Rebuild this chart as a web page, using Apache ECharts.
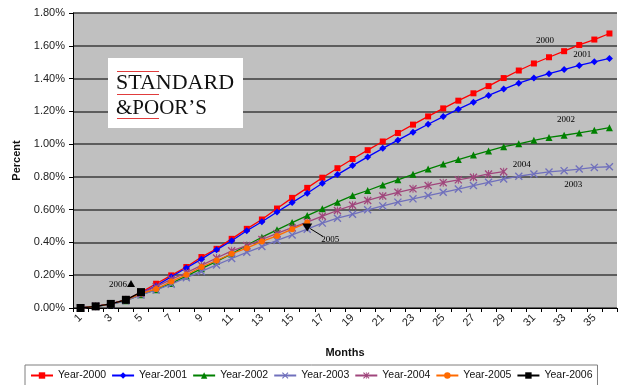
<!DOCTYPE html>
<html>
<head>
<meta charset="utf-8">
<script src="https://cdn.jsdelivr.net/npm/echarts@6/dist/echarts.min.js"></script>
<style>
  html, body { margin: 0; padding: 0; background: #ffffff; }
  #chart { width: 618px; height: 385px; }
</style>
</head>
<body>
<div id="chart"></div>
<script>
// Months since origination (category axis)
const months = ['1','2','3','4','5','6','7','8','9','10','11','12','13','14','15','16','17','18',
                '19','20','21','22','23','24','25','26','27','28','29','30','31','32','33','34','35','36'];

// Y-axis ticks (percent)
const yTicks = { min: 0, max: 1.8, step: 0.2 };

// Cumulative default rate by cohort year, in percent
const year2000 = [0.00,0.010,0.025,0.050,0.095,0.148,0.199,0.250,0.311,0.361,0.422,0.483,0.540,0.607,0.672,0.733,0.795,0.853,
                  0.909,0.963,1.016,1.068,1.119,1.169,1.218,1.265,1.310,1.354,1.403,1.449,1.492,1.530,1.567,1.605,1.638,1.675];
const year2001 = [0.00,0.010,0.025,0.050,0.090,0.135,0.191,0.244,0.298,0.355,0.410,0.471,0.526,0.586,0.643,0.700,0.761,0.814,
                  0.869,0.922,0.974,1.024,1.073,1.121,1.168,1.213,1.256,1.297,1.336,1.372,1.403,1.430,1.455,1.480,1.502,1.523];
const year2002 = [0.00,0.010,0.022,0.045,0.081,0.112,0.150,0.195,0.240,0.285,0.330,0.383,0.432,0.477,0.521,0.564,0.605,0.646,
                  0.686,0.717,0.751,0.782,0.816,0.848,0.878,0.906,0.933,0.958,0.984,1.002,1.023,1.041,1.054,1.068,1.084,1.100];
const year2003 = [0.00,0.010,0.020,0.045,0.080,0.110,0.145,0.185,0.223,0.263,0.302,0.340,0.375,0.412,0.446,0.481,0.518,0.548,
                  0.572,0.599,0.623,0.646,0.666,0.686,0.706,0.726,0.747,0.767,0.787,0.804,0.818,0.830,0.838,0.848,0.858,0.862];
const year2004 = [0.00,0.010,0.025,0.050,0.090,0.130,0.175,0.215,0.260,0.305,0.349,0.381,0.418,0.455,0.490,0.524,0.560,0.595,
                  0.627,0.656,0.683,0.706,0.727,0.747,0.765,0.782,0.798,0.818,0.832];
const year2005 = [0.00,0.010,0.025,0.050,0.088,0.116,0.162,0.203,0.250,0.290,0.331,0.365,0.406,0.440,0.481,0.521];
const year2006 = [0.00,0.010,0.025,0.050,0.097];

const seriesNames = ['Year-2000','Year-2001','Year-2002','Year-2003','Year-2004','Year-2005','Year-2006'];

// Marker shapes
const crossPath = 'path://M0,1.2L1.2,0L10,8.8L8.8,10Z M8.8,0L10,1.2L1.2,10L0,8.8Z';
const starPath  = 'path://M0,1.2L1.2,0L10,8.8L8.8,10Z M8.8,0L10,1.2L1.2,10L0,8.8Z M4.4,0L5.6,0L5.6,10L4.4,10Z';

const styles = [
  { color: '#ff0000', symbol: 'rect',     size: 6 },
  { color: '#0000ff', symbol: 'diamond',  size: 7 },
  { color: '#008000', symbol: 'triangle', size: 7 },
  { color: '#7070bc', symbol: crossPath,  size: 8 },
  { color: '#a0467c', symbol: starPath,   size: 8 },
  { color: '#ff6a00', symbol: 'circle',   size: 6 },
  { color: '#000000', symbol: 'rect',     size: 8 }
];
const dataSets = [year2000, year2001, year2002, year2003, year2004, year2005, year2006];

const FONT = 'Liberation Sans, Arial, sans-serif';
const SERIF = 'Liberation Serif, Times New Roman, serif';

const series = dataSets.map((d, i) => ({
  name: seriesNames[i],
  type: 'line',
  data: d,
  symbol: styles[i].symbol,
  symbolSize: styles[i].size,
  showAllSymbol: true,
  animation: false,
  lineStyle: { color: styles[i].color, width: 1.3 },
  itemStyle: { color: styles[i].color },
  z: 2 + i
}));

const option = {
  animation: false,
  backgroundColor: '#ffffff',
  grid: {
    left: 73, right: 1, top: 13, bottom: 77,
    show: true, backgroundColor: '#c0c0c0', borderWidth: 0
  },
  legend: {
    data: seriesNames,
    left: 25, top: 365,
    width: 595,
    padding: [5, 5, 12, 5],
    itemGap: 5,
    itemWidth: 22, itemHeight: 8,
    borderColor: '#7f7f7f', borderWidth: 1,
    backgroundColor: '#ffffff',
    textStyle: { fontFamily: FONT, fontSize: 10.5, color: '#111' }
  },
  xAxis: {
    type: 'category',
    data: months,
    boundaryGap: true,
    name: 'Months',
    nameLocation: 'middle',
    nameGap: 39,
    nameTextStyle: { fontFamily: FONT, fontSize: 11, fontWeight: 'bold', color: '#111' },
    axisLine: { lineStyle: { color: '#000', width: 1 } },
    axisTick: { show: true, interval: 0, length: 4, lineStyle: { color: '#000' } },
    axisLabel: { interval: 1, rotate: 45, margin: 8, fontFamily: FONT, fontSize: 11, color: '#222' },
    splitLine: { show: false }
  },
  yAxis: {
    type: 'value',
    min: yTicks.min, max: yTicks.max, interval: yTicks.step,
    name: 'Percent',
    nameLocation: 'middle',
    nameGap: 49,
    nameTextStyle: { fontFamily: FONT, fontSize: 11, fontWeight: 'bold', color: '#111' },
    axisLine: { show: true, lineStyle: { color: '#000', width: 1 } },
    axisTick: { show: true, length: 4, lineStyle: { color: '#000' } },
    axisLabel: {
      margin: 8, fontFamily: FONT, fontSize: 11, color: '#222',
      formatter: v => v.toFixed(2) + '%'
    },
    splitLine: { show: true, lineStyle: { color: '#3c3c3c', width: 1.5 } }
  },
  series: series
};

const chart = echarts.init(document.getElementById('chart'), null, { renderer: 'canvas' });
chart.setOption(option);

// Pixel position of a data point on the grid
function px(idx, v) { return chart.convertToPixel({ xAxisIndex: 0, yAxisIndex: 0 }, [idx, v]); }

// Cohort labels placed beside their curves
const tags = [
  { text: '2000', idx: 31, v: 1.634, dx: -4 },
  { text: '2001', idx: 33, v: 1.543, dx: 3 },
  { text: '2002', idx: 32, v: 1.147, dx: 2 },
  { text: '2004', idx: 29, v: 0.873, dx: 3 },
  { text: '2003', idx: 33, v: 0.751, dx: -6 }
];
const graphics = tags.map(t => {
  const p = px(t.idx, t.v);
  return {
    type: 'text', x: p[0] + t.dx, y: p[1], z: 20,
    style: { text: t.text, font: '9px ' + SERIF, fill: '#000', align: 'center', verticalAlign: 'middle' }
  };
});

// 2005 pointer: down triangle under the last point, with a leader to its label
const e5 = px(year2005.length - 1, year2005[year2005.length - 1]);
graphics.push({
  type: 'polygon', z: 20,
  shape: { points: [[e5[0] - 5, e5[1] + 1], [e5[0] + 5, e5[1] + 1], [e5[0], e5[1] + 9]] },
  style: { fill: '#000' }
});
graphics.push({
  type: 'line', z: 20,
  shape: { x1: e5[0] + 3, y1: e5[1] + 6, x2: e5[0] + 16, y2: e5[1] + 14 },
  style: { stroke: '#000', lineWidth: 1 }
});
graphics.push({
  type: 'text', x: e5[0] + 23, y: e5[1] + 17, z: 20,
  style: { text: '2005', font: '9px ' + SERIF, fill: '#000', align: 'center', verticalAlign: 'middle' }
});

// 2006 pointer: up triangle left of the last point
const e6 = px(year2006.length - 1, year2006[year2006.length - 1]);
graphics.push({
  type: 'polygon', z: 20,
  shape: { points: [[e6[0] - 14, e6[1] - 5], [e6[0] - 6, e6[1] - 5], [e6[0] - 10, e6[1] - 12]] },
  style: { fill: '#000' }
});
graphics.push({
  type: 'text', x: e6[0] - 23, y: e6[1] - 7, z: 20,
  style: { text: '2006', font: '9px ' + SERIF, fill: '#000', align: 'center', verticalAlign: 'middle' }
});

// Company wordmark panel
graphics.push({
  type: 'group', x: 108, y: 58, z: 30,
  children: [
    { type: 'rect', shape: { x: 0, y: 0, width: 135, height: 70 }, style: { fill: '#ffffff' } },
    { type: 'rect', shape: { x: 9, y: 13, width: 42, height: 1 }, style: { fill: '#e03c3c' } },
    { type: 'text', x: 8, y: 25.5, style: { text: 'STANDARD', font: '22px ' + SERIF, fill: '#111', verticalAlign: 'middle' } },
    { type: 'rect', shape: { x: 9, y: 36, width: 42, height: 1 }, style: { fill: '#e03c3c' } },
    { type: 'text', x: 8, y: 50, style: { text: '&POOR\u2019S', font: '21px ' + SERIF, fill: '#111', verticalAlign: 'middle' } },
    { type: 'rect', shape: { x: 9, y: 60, width: 42, height: 1 }, style: { fill: '#e03c3c' } }
  ]
});

chart.setOption({ graphic: graphics });
</script>
</body>
</html>
